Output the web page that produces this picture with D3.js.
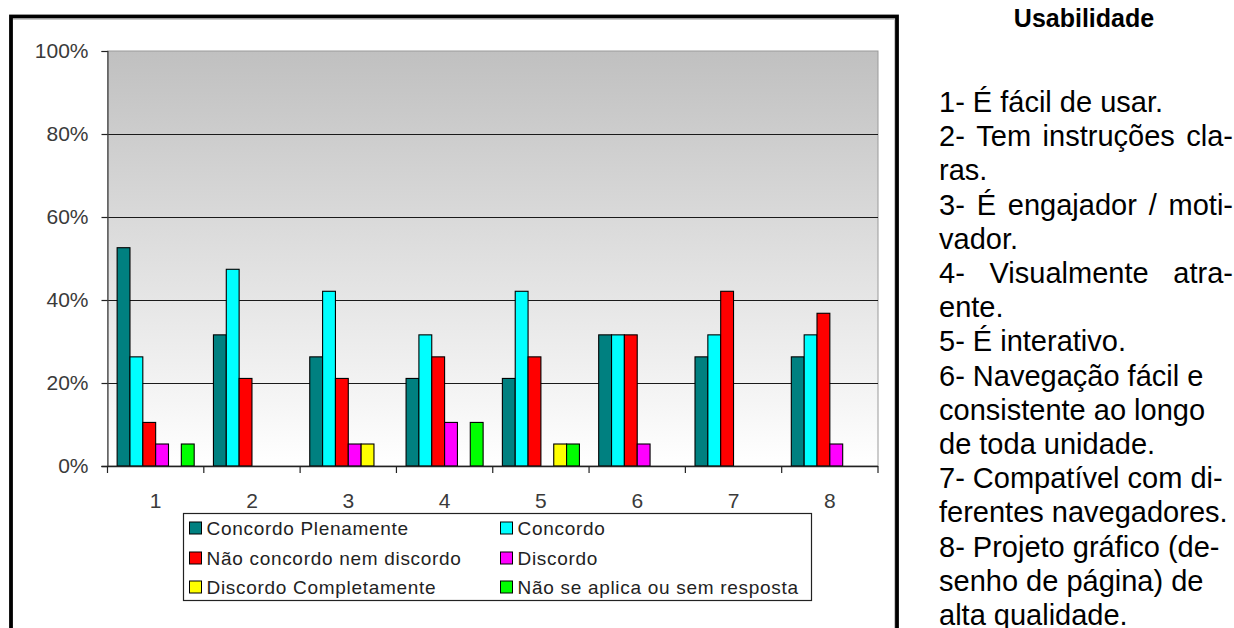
<!DOCTYPE html>
<html>
<head>
<meta charset="utf-8">
<script src="https://cdn.jsdelivr.net/npm/d3@7"></script>
<style>
  html, body { margin: 0; padding: 0; background: #ffffff; }
  svg { display: block; }
</style>
</head>
<body>
<svg id="chart" width="1234" height="628"></svg>
<script>
// ---- data ----
const categories = ["1", "2", "3", "4", "5", "6", "7", "8"];
const seriesNames = [
  "Concordo Plenamente",
  "Concordo",
  "Não concordo nem discordo",
  "Discordo",
  "Discordo Completamente",
  "Não se aplica ou sem resposta"
];
const concordoPlenamente   = [52.6, 31.6, 26.3, 21.1, 21.1, 31.6, 26.3, 26.3];
const concordo             = [26.3, 47.4, 42.1, 31.6, 42.1, 31.6, 31.6, 31.6];
const naoConcordoNemDisc   = [10.5, 21.1, 21.1, 26.3, 26.3, 31.6, 42.1, 36.8];
const discordo             = [5.3, 0, 5.3, 10.5, 0, 5.3, 0, 5.3];
const discordoCompletamente= [0, 0, 5.3, 0, 5.3, 0, 0, 0];
const naoSeAplica          = [5.3, 0, 0, 10.5, 5.3, 0, 0, 0];
const yTicks = [0, 20, 40, 60, 80, 100];
const colors = ["#008080", "#00FFFF", "#FF0000", "#FF00FF", "#FFFF00", "#00FF00"];

const title = "Usabilidade";
const notes = [
  {t: "1- É fácil de usar.", j: false},
  {t: "2- Tem instruções cla-", j: true},
  {t: "ras.", j: false},
  {t: "3- É engajador / moti-", j: true},
  {t: "vador.", j: false},
  {t: "4- Visualmente atra-", j: true},
  {t: "ente.", j: false},
  {t: "5- É interativo.", j: false},
  {t: "6- Navegação fácil e", j: false},
  {t: "consistente ao longo", j: false},
  {t: "de toda unidade.", j: false},
  {t: "7- Compatível com di-", j: false},
  {t: "ferentes navegadores.", j: false},
  {t: "8- Projeto gráfico (de-", j: false},
  {t: "senho de página) de", j: false},
  {t: "alta qualidade.", j: false}
];

const seriesValues = [concordoPlenamente, concordo, naoConcordoNemDisc, discordo, discordoCompletamente, naoSeAplica];

// ---- layout ----
const svg = d3.select("#chart");
const plot = {left: 107.5, right: 878, top: 51, bottom: 466};
const font = "'Liberation Sans', Arial, Helvetica, sans-serif";

// chart frame
svg.append("line").attr("x1", 13).attr("x2", 895).attr("y1", 19.5).attr("y2", 19.5)
  .attr("stroke", "#c8c8c8").attr("stroke-width", 1);
svg.append("line").attr("x1", 894.5).attr("x2", 894.5).attr("y1", 19).attr("y2", 640)
  .attr("stroke", "#c8c8c8").attr("stroke-width", 1);
svg.append("rect").attr("x", 11).attr("y", 16.5).attr("width", 886).attr("height", 700)
  .attr("fill", "none").attr("stroke", "#000").attr("stroke-width", 3.8);

// gradient background
const defs = svg.append("defs");
const grad = defs.append("linearGradient").attr("id", "bg").attr("x1", 0).attr("x2", 0).attr("y1", 0).attr("y2", 1);
grad.append("stop").attr("offset", "0%").attr("stop-color", "#c0c0c0");
grad.append("stop").attr("offset", "100%").attr("stop-color", "#ffffff");

const y = d3.scaleLinear().domain([0, 100]).range([plot.bottom, plot.top]);
const x0 = d3.scaleBand().domain(categories).range([plot.left, plot.right]).paddingInner(0).paddingOuter(0);
const x1 = d3.scaleBand().domain(d3.range(seriesNames.length)).range([0, x0.bandwidth()]).paddingInner(0).paddingOuter(0.75);

svg.append("rect").attr("x", plot.left).attr("y", plot.top)
  .attr("width", plot.right - plot.left).attr("height", plot.bottom - plot.top)
  .attr("fill", "url(#bg)").attr("stroke", "#9a9a9a").attr("stroke-width", 1);

// gridlines
svg.append("g").selectAll("line").data(yTicks.filter(d => d > 0 && d < 100)).join("line")
  .attr("x1", plot.left).attr("x2", plot.right)
  .attr("y1", d => Math.round(y(d)) + 0.5).attr("y2", d => Math.round(y(d)) + 0.5)
  .attr("stroke", "#1a1a1a").attr("stroke-width", 1.2);

// bars
const groups = svg.append("g").selectAll("g").data(categories).join("g")
  .attr("transform", d => `translate(${x0(d)},0)`);
groups.selectAll("rect")
  .data((c, ci) => seriesValues.map((s, si) => ({si, v: s[ci]})).filter(d => d.v > 0))
  .join("rect")
  .attr("x", d => x1(d.si))
  .attr("width", x1.bandwidth())
  .attr("y", d => y(d.v))
  .attr("height", d => y(0) - y(d.v))
  .attr("fill", d => colors[d.si])
  .attr("stroke", "#000").attr("stroke-width", 1.1);

// y axis
const yAxis = d3.axisLeft(y).tickValues(yTicks).tickFormat(d => d + "%").tickSize(6).tickPadding(13);
const gy = svg.append("g").attr("transform", `translate(${plot.left},0)`).call(yAxis);
gy.select(".domain").attr("stroke", "#444").attr("stroke-width", 1.2);
gy.selectAll(".tick line").attr("stroke", "#222").attr("stroke-width", 1.2);
gy.selectAll(".tick text").attr("font-family", font).attr("font-size", 21).attr("fill", "#3a3a3a");

// x axis
const xTickScale = d3.scaleLinear().domain([0, categories.length]).range([plot.left, plot.right]);
const gx = svg.append("g").attr("transform", `translate(0,${plot.bottom})`);
gx.append("line").attr("x1", plot.left - 6).attr("x2", plot.right).attr("y1", 0.5).attr("y2", 0.5)
  .attr("stroke", "#222").attr("stroke-width", 1.3);
gx.selectAll("line.tk").data(d3.range(categories.length + 1)).join("line").attr("class", "tk")
  .attr("x1", d => xTickScale(d)).attr("x2", d => xTickScale(d))
  .attr("y1", 0).attr("y2", 7).attr("stroke", "#222").attr("stroke-width", 1.2);
gx.selectAll("text").data(categories).join("text")
  .attr("x", d => x0(d) + x0.bandwidth() / 2).attr("y", 41.5)
  .attr("text-anchor", "middle")
  .attr("font-family", font).attr("font-size", 21).attr("fill", "#3a3a3a")
  .text(d => d);

// legend
const lg = svg.append("g");
lg.append("rect").attr("x", 183.5).attr("y", 513.5).attr("width", 628).attr("height", 87)
  .attr("fill", "#fff").attr("stroke", "#222").attr("stroke-width", 1.2);
const legCols = [189.5, 500.5];
const legRows = [528, 558, 587];
const li = lg.selectAll("g").data(seriesNames).join("g")
  .attr("transform", (d, i) => `translate(${legCols[i % 2]},${legRows[Math.floor(i / 2)]})`);
li.append("rect").attr("x", 0).attr("y", -6).attr("width", 12).attr("height", 12)
  .attr("fill", (d, i) => colors[i]).attr("stroke", "#000").attr("stroke-width", 1);
li.append("text").attr("x", 17).attr("y", 0).attr("dy", "0.36em")
  .attr("font-family", font).attr("font-size", 19).attr("letter-spacing", "0.7px").attr("fill", "#222")
  .text(d => d);

// right-hand notes
svg.append("text").attr("x", 1084).attr("y", 27).attr("text-anchor", "middle")
  .attr("font-family", font).attr("font-weight", "bold").attr("font-size", 25).attr("fill", "#000")
  .text(title);

const noteLeft = 939, noteRight = 1233, noteFont = 29;
const ng = svg.append("g").attr("font-family", font).attr("font-size", noteFont).attr("fill", "#000");
notes.forEach((n, i) => {
  const by = 112 + i * 34.2;
  if (!n.j) {
    ng.append("text").attr("x", noteLeft).attr("y", by).text(n.t);
  } else {
    const words = n.t.split(" ");
    const widths = words.map(w => {
      const t = ng.append("text").text(w);
      const wd = t.node().getComputedTextLength();
      t.remove();
      return wd;
    });
    const total = d3.sum(widths);
    const gap = (noteRight - noteLeft - total) / (words.length - 1);
    let cx = noteLeft;
    const t = ng.append("text").attr("y", by);
    words.forEach((w, k) => {
      t.append("tspan").attr("x", cx).text(w);
      cx += widths[k] + gap;
    });
  }
});
</script>
</body>
</html>
